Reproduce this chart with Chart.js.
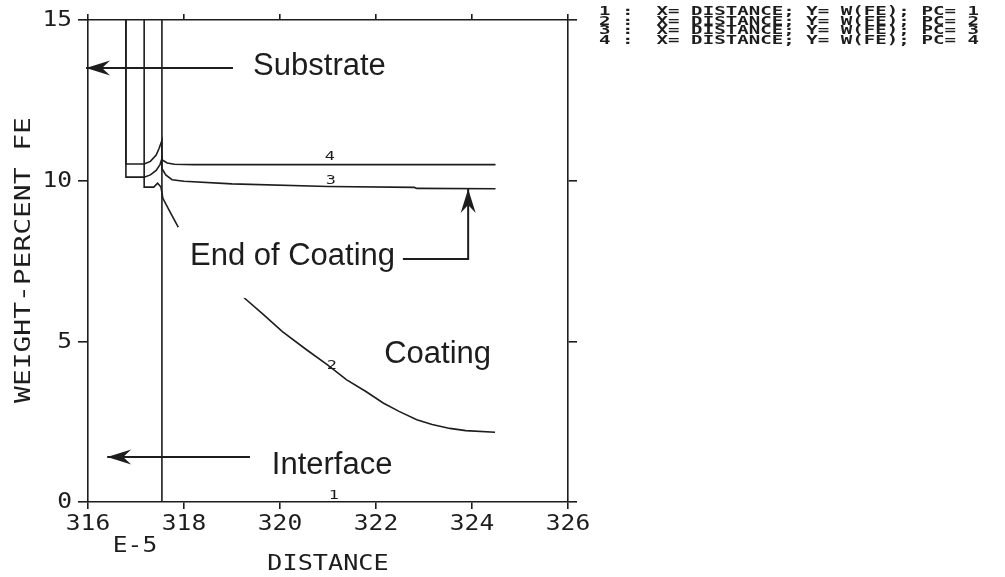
<!DOCTYPE html>
<html>
<head>
<meta charset="utf-8">
<title>Weight-percent Fe vs distance</title>
<script src="https://cdn.jsdelivr.net/npm/chart.js@4.4.1/dist/chart.umd.min.js"></script>
<style>
  html, body { margin: 0; padding: 0; background: #fff; }
</style>
</head>
<body>
<canvas id="plot" width="1005" height="577"></canvas>
<script>
// Distance is in units of 1E-5, W(FE) in weight percent
const xTicks = [316, 318, 320, 322, 324, 326];
const yTicks = [0, 5, 10, 15];

// PC=1 : initial step at the interface
const pc1X = [317.54, 317.54, 324.5];
const pc1Y = [15, 0, 0];

// PC=2
const pc2X = [317.17, 317.17, 317.37, 317.45, 317.52, 317.56, 317.7, 317.86, 318.2, 318.7,
              319.21, 319.65, 320.05, 320.56, 320.99, 321.39, 321.79, 322.15, 322.48,
              322.85, 323.17, 323.54, 323.87, 324.48];
const pc2Y = [15, 9.8, 9.8, 9.92, 9.8, 9.45, 9.05, 8.61, 7.75, 7.1,
              6.41, 5.84, 5.3, 4.73, 4.27, 3.8, 3.44, 3.08, 2.82,
              2.56, 2.41, 2.29, 2.22, 2.17];

// PC=3
const pc3X = [316.79, 316.79, 317.17, 317.3, 317.42, 317.5, 317.54, 317.54, 317.62, 317.75,
              318.0, 319.0, 321.0, 322.8, 322.85, 324.49];
const pc3Y = [15, 10.11, 10.11, 10.18, 10.32, 10.5, 10.68, 10.38, 10.18, 10.03,
              9.98, 9.9, 9.82, 9.79, 9.76, 9.75];

// PC=4
const pc4X = [316.79, 316.79, 317.17, 317.3, 317.42, 317.48, 317.54, 317.54, 317.65, 317.8,
              318.2, 324.49];
const pc4Y = [15, 10.52, 10.52, 10.6, 10.8, 11.0, 11.25, 10.65, 10.55, 10.51,
              10.5, 10.5];

// curve number labels, placed on each curve
const curveLabels = ['1', '2', '3', '4'];
const curveLabelX = [321.12, 321.08, 321.06, 321.04];
const curveLabelY = [0.2, 4.25, 10.0, 10.75];

const legendRows = [
  '1 :  X= DISTANCE; Y= W(FE); PC= 1',
  '2 :  X= DISTANCE; Y= W(FE); PC= 2',
  '3 :  X= DISTANCE; Y= W(FE); PC= 3',
  '4 :  X= DISTANCE; Y= W(FE); PC= 4'
];

const INK = '#1d1d1d';
const MONO = '"DejaVu Sans Mono"';
const SANS = '"Liberation Sans", Arial, sans-serif';

function toPoints(xs, ys) {
  return xs.map((x, i) => ({ x: x, y: ys[i] }));
}

function curve(xs, ys) {
  return {
    data: toPoints(xs, ys),
    showLine: true,
    borderColor: INK,
    borderWidth: 1.6,
    pointRadius: 0,
    tension: 0,
    fill: false
  };
}

// stretched monospace text, to get the wide plotter lettering
function plotterText(ctx, str, x, y, size, stretch, align, weight) {
  ctx.save();
  ctx.font = (weight || 'normal') + ' ' + size + 'px ' + MONO;
  ctx.textBaseline = 'middle';
  ctx.textAlign = 'left';
  const w = ctx.measureText(str).width * stretch;
  let left = x;
  if (align === 'center') left = x - w / 2;
  else if (align === 'right') left = x - w;
  ctx.translate(left, y);
  ctx.scale(stretch, 1);
  ctx.fillStyle = INK;
  ctx.fillText(str, 0, 0);
  ctx.restore();
}

function arrow(ctx, pts) {
  ctx.save();
  ctx.strokeStyle = INK;
  ctx.fillStyle = INK;
  ctx.lineWidth = 2;
  ctx.beginPath();
  ctx.moveTo(pts[0][0], pts[0][1]);
  for (let i = 1; i < pts.length; i++) ctx.lineTo(pts[i][0], pts[i][1]);
  ctx.stroke();
  const a = pts[pts.length - 2], b = pts[pts.length - 1];
  ctx.translate(b[0], b[1]);
  ctx.rotate(Math.atan2(b[1] - a[1], b[0] - a[0]));
  ctx.beginPath();
  ctx.moveTo(0, 0);
  ctx.lineTo(-24, -7.5);
  ctx.lineTo(-16, 0);
  ctx.lineTo(-24, 7.5);
  ctx.closePath();
  ctx.fill();
  ctx.restore();
}

const decorations = {
  id: 'decorations',
  afterDatasetsDraw(chart) {
    const ctx = chart.ctx;
    const sx = chart.scales.x, sy = chart.scales.y;
    const px = v => sx.getPixelForValue(v);
    const py = v => sy.getPixelForValue(v);

    // label box of "End of Coating" hides part of curve 2
    ctx.save();
    ctx.fillStyle = '#fff';
    ctx.fillRect(px(317.875), py(8.56), px(322.5) - px(317.875), py(6.35) - py(8.56));
    ctx.restore();

    ctx.save();
    ctx.fillStyle = INK;
    ctx.font = '31px ' + SANS;
    ctx.textBaseline = 'middle';
    ctx.textAlign = 'left';
    ctx.fillText('Substrate', px(319.44), py(13.54));
    ctx.fillText('End of Coating', px(318.125), py(7.63));
    ctx.fillText('Coating', px(322.17), py(4.58));
    ctx.fillText('Interface', px(319.83), py(1.15));
    ctx.restore();

    arrow(ctx, [[px(319.02), py(13.51)], [px(315.96), py(13.51)]]);
    arrow(ctx, [[px(319.375), py(1.40)], [px(316.40), py(1.40)]]);
    arrow(ctx, [[px(322.56), py(7.56)], [px(323.92), py(7.56)], [px(323.92), py(9.74)]]);

    curveLabels.forEach((t, i) => {
      plotterText(ctx, t, px(curveLabelX[i]), py(curveLabelY[i]), 13, 1.3, 'center');
    });
  },
  afterDraw(chart) {
    const ctx = chart.ctx;
    const sx = chart.scales.x, sy = chart.scales.y;

    yTicks.forEach(v => {
      plotterText(ctx, String(v), 72, sy.getPixelForValue(v) + 1, 21, 1.17, 'right');
    });
    xTicks.forEach(v => {
      plotterText(ctx, String(v), sx.getPixelForValue(v), 525, 21, 1.17, 'center');
    });
    plotterText(ctx, 'E-5', 135, 547, 21, 1.17, 'center');
    plotterText(ctx, 'DISTANCE', (chart.chartArea.left + chart.chartArea.right) / 2, 565, 21, 1.2, 'center');

    ctx.save();
    ctx.translate(25, 260);
    ctx.rotate(-Math.PI / 2);
    plotterText(ctx, 'WEIGHT-PERCENT FE', 0, 0, 21, 1.33, 'center');
    ctx.restore();

    legendRows.forEach((row, i) => {
      plotterText(ctx, row, 599, 12 + i * 9.6, 12.5, 1.53, 'left', 'bold');
    });
  }
};

function frameAxis(position, tickLen, size, values) {
  const horizontal = position === 'top' || position === 'bottom';
  return {
    type: 'linear',
    position: position,
    axis: horizontal ? 'x' : 'y',
    min: horizontal ? 316 : 0,
    max: horizontal ? 326 : 15,
    afterBuildTicks: s => { s.ticks = values.map(v => ({ value: v })); },
    ticks: { display: false },
    grid: { drawOnChartArea: false, drawTicks: true, tickLength: tickLen, color: INK, lineWidth: 1.6 },
    border: { display: true, color: INK, width: 1.6 },
    afterFit: s => {
      if (horizontal) s.height = size; else s.width = size;
    }
  };
}

new Chart(document.getElementById('plot'), {
  type: 'scatter',
  data: {
    datasets: [
      curve(pc1X, pc1Y),
      curve(pc2X, pc2Y),
      curve(pc3X, pc3Y),
      curve(pc4X, pc4Y)
    ]
  },
  options: {
    responsive: false,
    animation: false,
    devicePixelRatio: 1,
    layout: { padding: 0 },
    plugins: { legend: { display: false }, tooltip: { enabled: false } },
    scales: {
      x: frameAxis('bottom', 7, 75, xTicks),
      x2: frameAxis('top', 6, 20, xTicks),
      y: frameAxis('left', 10, 88, yTicks),
      y2: frameAxis('right', 9, 437, yTicks)
    }
  },
  plugins: [decorations]
});
</script>
</body>
</html>
